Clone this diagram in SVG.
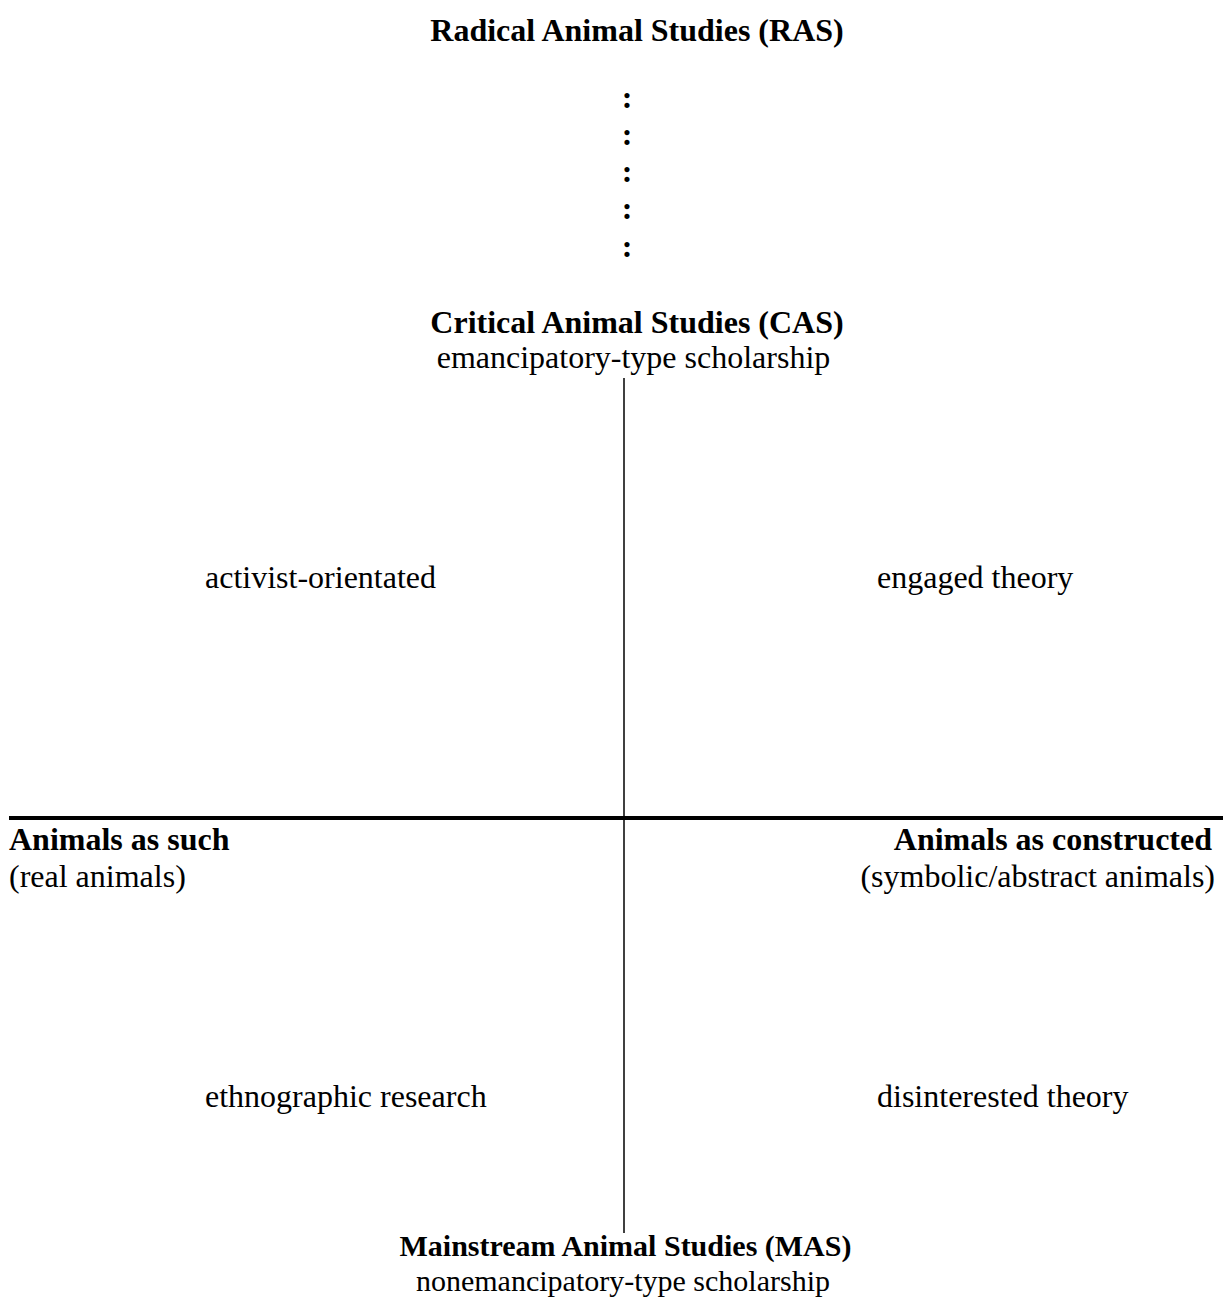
<svg xmlns="http://www.w3.org/2000/svg" width="1223" height="1300" viewBox="0 0 1223 1300">
<style>
text{font-family:"Liberation Serif","Times New Roman",serif;font-size:32px;fill:#000}
.b{font-weight:bold}
.m{text-anchor:middle}
.e{text-anchor:end}
.s{font-size:30px}
</style>
<rect width="1223" height="1300" fill="#fff"/>
<g id="connectors" stroke="#000" fill="none">
<line x1="624" y1="378" x2="624" y2="1233" stroke-width="1.5"/>
<line x1="9" y1="818" x2="1223" y2="818" stroke-width="4"/>
</g>
<g id="ras">
<text class="b m" x="637" y="41">Radical Animal Studies (RAS)</text>
</g>
<g id="dots">
<text class="b m" x="627" y="108">:</text>
<text class="b m" x="627" y="145">:</text>
<text class="b m" x="627" y="182">:</text>
<text class="b m" x="627" y="219">:</text>
<text class="b m" x="627" y="257">:</text>
</g>
<g id="cas">
<text class="b m" x="637" y="333">Critical Animal Studies (CAS)</text>
<text class="m" x="633.5" y="368">emancipatory-type scholarship</text>
</g>
<g id="activist"><text x="205" y="588">activist-orientated</text></g>
<g id="engaged"><text x="877" y="588">engaged theory</text></g>
<g id="such">
<text class="b" x="9" y="850">Animals as such</text>
<text x="9" y="887">(real animals)</text>
</g>
<g id="constructed">
<text class="b e" x="1212" y="850">Animals as constructed</text>
<text class="e" x="1215" y="887">(symbolic/abstract animals)</text>
</g>
<g id="ethno"><text x="205" y="1107">ethnographic research</text></g>
<g id="disint"><text x="877" y="1107">disinterested theory</text></g>
<g id="mas">
<text class="b m s" x="625.5" y="1256">Mainstream Animal Studies (MAS)</text>
<text class="m s" x="623" y="1291">nonemancipatory-type scholarship</text>
</g>
</svg>
